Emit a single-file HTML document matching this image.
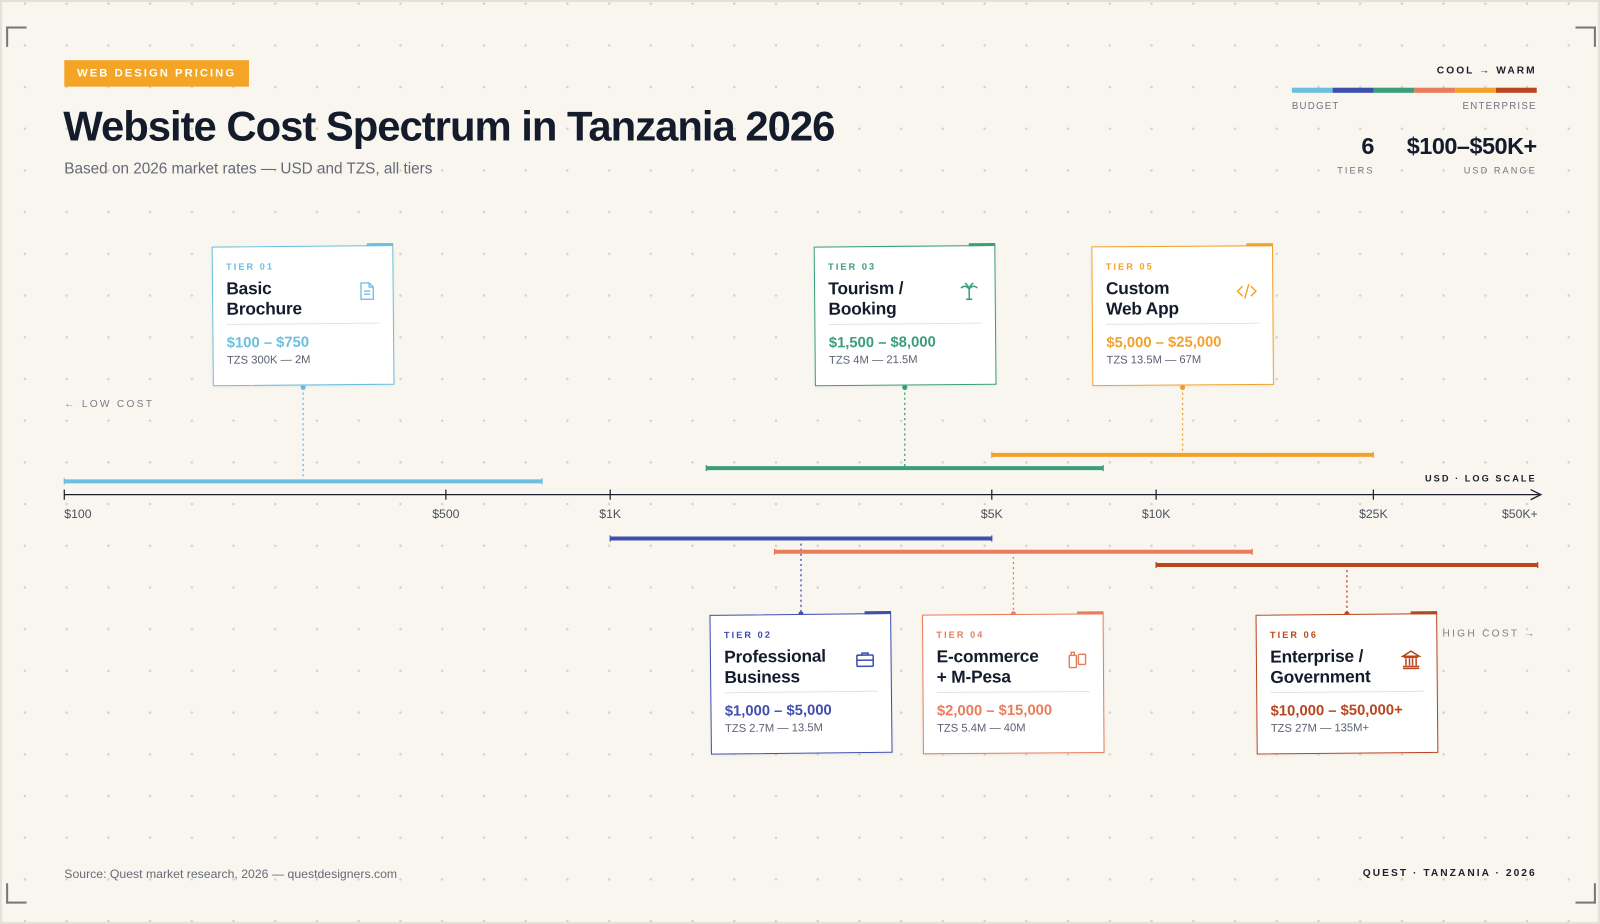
<!DOCTYPE html>
<html><head><meta charset="utf-8">
<style>
html,body{margin:0;padding:0;width:1600px;height:924px;overflow:hidden;background:#e4e1d8;}
#stage{position:absolute;left:0;top:0;width:1568px;height:906px;transform:scale(1.02041,1.01987);transform-origin:0 0;font-family:"Liberation Sans",sans-serif;}
#page{position:absolute;left:2px;top:2px;width:1564px;height:902px;background-color:#f9f6f0;
background-image:radial-gradient(circle,#d6d2c8 1.1px,transparent 1.4px);background-size:40.9px 40.9px;background-position:2px 22px;}
.abs{position:absolute;}
.corner{position:absolute;width:18px;height:18px;border-color:#777;border-style:solid;border-width:0;}
.card{position:absolute;width:178px;height:137px;background:#fff;border:1.5px solid;box-sizing:border-box;box-shadow:0 1px 3px rgba(0,0,0,0.06);}
.card .tab{position:absolute;right:-1px;top:-3px;width:26px;height:3px;}
.card .tier{position:absolute;left:13px;top:14px;font-size:9px;letter-spacing:2px;font-weight:bold;}
.card .title{position:absolute;left:13px;top:31px;font-size:17px;line-height:20px;color:#141c2b;font-weight:bold;letter-spacing:-0.2px;}
.card .div{position:absolute;left:13px;right:13px;top:75px;height:1px;background:#e6e4df;}
.card .price{position:absolute;left:13px;top:86px;font-size:14.5px;font-weight:bold;}
.card .tzs{position:absolute;left:13px;top:105px;font-size:11px;color:#5c6270;}
.card .icon{position:absolute;right:15px;top:34px;width:20px;height:20px;}
</style></head><body>
<div id="stage">
<div id="page"></div>
<div class="corner" style="left:6px;top:26px;border-left-width:2px;border-top-width:2px"></div>
<div class="corner" style="left:1544px;top:26px;border-right-width:2px;border-top-width:2px"></div>
<div class="corner" style="left:6px;top:866px;border-left-width:2px;border-bottom-width:2px"></div>
<div class="corner" style="left:1544px;top:866px;border-right-width:2px;border-bottom-width:2px"></div>

<div class="abs" style="left:63px;top:59px;width:181px;height:26px;background:#f4a526;color:#fff;font-size:11px;font-weight:bold;letter-spacing:2px;line-height:26px;text-align:center;">WEB DESIGN PRICING</div>
<div class="abs" style="left:62px;top:101px;font-size:41px;font-weight:bold;color:#141c2b;letter-spacing:-1px;">Website Cost Spectrum in Tanzania 2026</div>
<div class="abs" style="left:63px;top:157px;font-size:15px;color:#646a76;">Based on 2026 market rates — USD and TZS, all tiers</div>

<div class="abs" style="left:1346px;top:64px;width:160px;text-align:right;font-size:10px;letter-spacing:2px;color:#1a1f2b;font-weight:bold;">COOL → WARM</div>
<div class="abs" style="left:1266px;top:86px;width:240px;height:5px;display:flex;">
<div style="flex:1;background:#6bbfe0"></div><div style="flex:1;background:#3f4fae"></div><div style="flex:1;background:#3a9e7c"></div><div style="flex:1;background:#e87d5c"></div><div style="flex:1;background:#f2a22c"></div><div style="flex:1;background:#b8461f"></div></div>
<div class="abs" style="left:1266px;top:99px;font-size:9.5px;letter-spacing:1.2px;color:#6e7380;">BUDGET</div>
<div class="abs" style="left:1406px;top:99px;width:100px;text-align:right;font-size:9.5px;letter-spacing:1.2px;color:#6e7380;">ENTERPRISE</div>
<div class="abs" style="left:1300px;top:130px;width:47px;text-align:right;font-size:23px;font-weight:bold;color:#141c2b;">6</div>
<div class="abs" style="left:1290px;top:162px;width:57px;text-align:right;font-size:9px;letter-spacing:2px;color:#6e7380;">TIERS</div>
<div class="abs" style="left:1356px;top:130px;width:150px;text-align:right;font-size:23px;font-weight:bold;color:#141c2b;letter-spacing:-0.5px;">$100–$50K+</div>
<div class="abs" style="left:1376px;top:162px;width:130px;text-align:right;font-size:9px;letter-spacing:2px;color:#6e7380;">USD RANGE</div>

<div class="abs" style="left:63px;top:391px;font-size:10px;letter-spacing:2.2px;color:#7a7e88;">← LOW COST</div>
<div class="abs" style="left:1380px;top:616px;width:126px;text-align:right;font-size:10px;letter-spacing:2.2px;color:#7a7e88;">HIGH COST →</div>
<div class="abs" style="left:1360px;top:464px;width:146px;text-align:right;font-size:9px;letter-spacing:2px;color:#1a1f2b;font-weight:bold;">USD · LOG SCALE</div>

<svg id="chart" class="abs" style="left:0;top:0" width="1568" height="906"></svg>
<div id="cards"></div>

<div class="abs" style="left:63px;top:850px;font-size:12px;color:#646a76;">Source: Quest market research, 2026 — questdesigners.com</div>
<div class="abs" style="left:1300px;top:851px;width:206px;text-align:right;font-size:10px;letter-spacing:2px;color:#1a1f2b;font-weight:bold;">QUEST · TANZANIA · 2026</div>
</div>
<script>
const tickValues=[100,500,1000,5000,10000,25000,50000];
const tickLabels=["$100","$500","$1K","$5K","$10K","$25K","$50K+"];
const tierNames=["Basic\nBrochure","Professional\nBusiness","Tourism /\nBooking","E-commerce\n+ M-Pesa","Custom\nWeb App","Enterprise /\nGovernment"];
const tierMin=[100,1000,1500,2000,5000,10000];
const tierMax=[750,5000,8000,15000,25000,50000];
const priceLabels=["$100 – $750","$1,000 – $5,000","$1,500 – $8,000","$2,000 – $15,000","$5,000 – $25,000","$10,000 – $50,000+"];
const tzsLabels=["TZS 300K — 2M","TZS 2.7M — 13.5M","TZS 4M — 21.5M","TZS 5.4M — 40M","TZS 13.5M — 67M","TZS 27M — 135M+"];
const colors=["#6bbfe0","#3f4fae","#3a9e7c","#e87d5c","#f2a22c","#b8461f"];
const above=[true,false,true,false,true,false];
const barY=[472,528,459,541,446,554];
const rot=[-0.5,-0.6,-0.5,-0.4,-0.4,-0.5];
const AXY=485;
const x=v=>63+(Math.log10(v)-2)*535;
const NS="http://www.w3.org/2000/svg";
const svg=document.getElementById('chart');
function mk(t,a){const e=document.createElementNS(NS,t);for(const k in a)e.setAttribute(k,a[k]);svg.appendChild(e);return e;}
let ax=mk('line',{x1:63,y1:AXY,x2:1508,y2:AXY,stroke:'#1a1f2b','stroke-width':1.3});


let ar=mk('path',{d:`M1500 ${AXY-5} L1510 ${AXY} L1500 ${AXY+5}`,fill:'none',stroke:'#1a1f2b','stroke-width':1.3});


tickValues.forEach((v,i)=>{
 const tx=x(v);
 const last=i==tickValues.length-1;
 if(!last){let t=mk('line',{x1:tx,y1:AXY-5,x2:tx,y2:AXY+5,stroke:'#1a1f2b','stroke-width':1.2});
 
 }
 let l=mk('text',{x:tx,y:AXY+23,'font-size':12,fill:'#4a505c','text-anchor':i==0?'start':(last?'end':'middle'),'font-family':'Liberation Sans, sans-serif'});
 l.textContent=tickLabels[i];
 
 
});
const cards=document.getElementById('cards');
const icons=[
 c=>`<svg viewBox="0 0 20 20" width="20" height="20"><path d="M4 2h8l4 4v12H4z M12 2v4h4 M7 10h6 M7 13h6" fill="none" stroke="${c}" stroke-width="1.3"/></svg>`,
 c=>`<svg viewBox="0 0 20 20" width="20" height="20"><rect x="2" y="6" width="16" height="11" rx="1" fill="none" stroke="${c}" stroke-width="1.5"/><path d="M7 6V4h6v2 M2 11h16" fill="none" stroke="${c}" stroke-width="1.5"/></svg>`,
 c=>`<svg viewBox="0 0 20 20" width="20" height="20"><path d="M10 18V8 M10 8C7 4 4 5 2 7 M10 8C13 4 16 5 18 7 M10 8C9 4 7 3 6 2 M10 8C11 4 13 3 14 2 M7 18h6" fill="none" stroke="${c}" stroke-width="1.5"/></svg>`,
 c=>`<svg viewBox="0 0 20 20" width="20" height="20"><rect x="2" y="6" width="7" height="12" rx="1" fill="none" stroke="${c}" stroke-width="1.4"/><rect x="11" y="5" width="7" height="10" rx="1" fill="none" stroke="${c}" stroke-width="1.4"/><path d="M4 6V3h3v3" fill="none" stroke="${c}" stroke-width="1.4"/></svg>`,
 c=>`<svg viewBox="0 0 20 20" width="20" height="20"><path d="M6 5L1 10l5 5 M14 5l5 5-5 5 M12 3L8 17" fill="none" stroke="${c}" stroke-width="1.4"/></svg>`,
 c=>`<svg viewBox="0 0 20 20" width="20" height="20"><path d="M2 7L10 2l8 5z M3 8h14 M5 9v7 M8.5 9v7 M11.5 9v7 M15 9v7 M2 17h16 M2 19h16" fill="none" stroke="${c}" stroke-width="1.5"/></svg>`];
tierMin.forEach((mn,i)=>{
 const c=colors[i];
 let b=mk('line',{x1:x(mn),y1:barY[i],x2:x(tierMax[i]),y2:barY[i],stroke:c,'stroke-width':4});
 
 
 [mn,tierMax[i]].forEach(v=>{mk('line',{x1:x(v),y1:barY[i]-3,x2:x(v),y2:barY[i]+3,stroke:c,'stroke-width':1.2});});
 const cx=x(Math.sqrt(mn*tierMax[i]));
 const cardTop=above[i]?241:602, cardBot=cardTop+139;
 const y1=above[i]?cardBot:barY[i], y2=above[i]?barY[i]:cardTop;
 let cn=mk('line',{x1:cx,y1:y1,x2:cx,y2:y2,stroke:c,'stroke-width':1.3,'stroke-dasharray':'2 3'});
 
 
 mk('circle',{cx:cx,cy:above[i]?cardBot:cardTop,r:2.5,fill:c});
 const d=document.createElement('div');
 d.className='card';
 
 
 d.style.left=(cx-89)+'px';d.style.top=cardTop+'px';d.style.borderColor=c;d.style.transform=`rotate(${rot[i]}deg)`;
 d.innerHTML=`<div class="tab" style="background:${c}"></div><div class="tier" style="color:${c}">TIER 0${i+1}</div><div class="title">${tierNames[i].replace('\n','<br>')}</div><div class="icon">${icons[i](c)}</div><div class="div"></div><div class="price" style="color:${c}">${priceLabels[i]}</div><div class="tzs">${tzsLabels[i]}</div>`;
 cards.appendChild(d);
});
</script>
</body></html>
